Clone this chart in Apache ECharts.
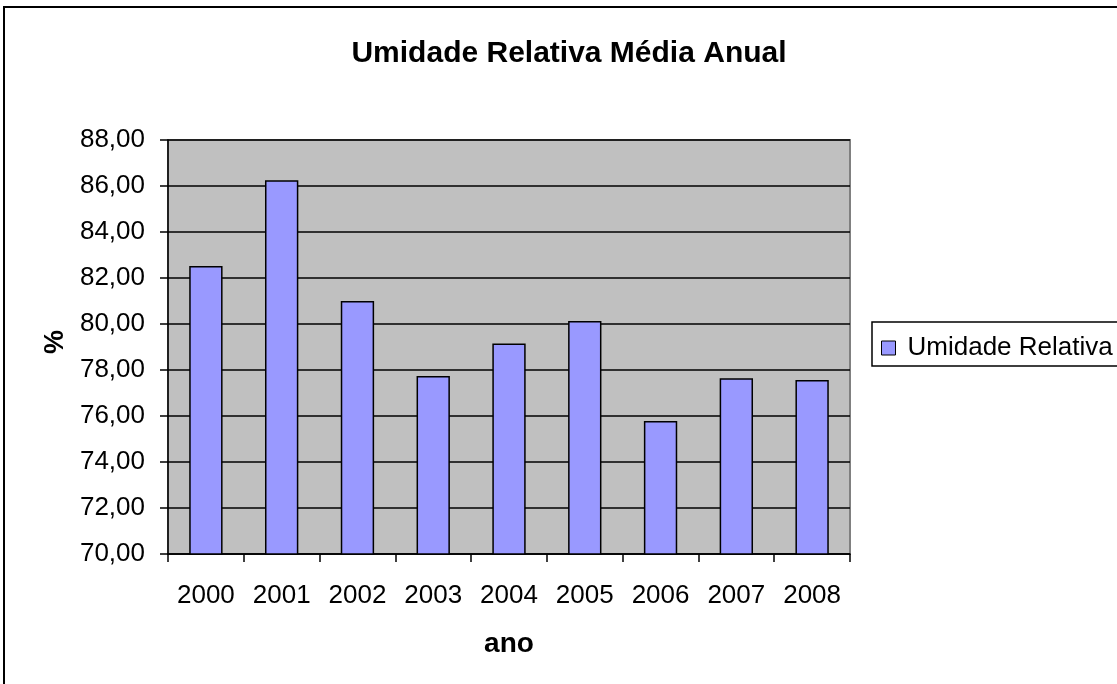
<!DOCTYPE html>
<html>
<head>
<meta charset="utf-8">
<script src="https://cdn.jsdelivr.net/npm/echarts@6/dist/echarts.min.js"></script>
<style>
  html, body { margin: 0; padding: 0; background: #fff; }
  #chart { width: 1117px; height: 684px; }
</style>
</head>
<body>
<div id="chart"></div>
<script>
// Annual mean relative humidity (%), 2000–2008
const years = ['2000', '2001', '2002', '2003', '2004', '2005', '2006', '2007', '2008'];
const humidity = [82.52, 86.25, 81.00, 77.74, 79.15, 80.13, 75.78, 77.64, 77.57];
const seriesName = 'Umidade Relativa';
const yMin = 70, yMax = 88, yStep = 2;

const FONT = '"Liberation Sans", Arial, sans-serif';

const chart = echarts.init(document.getElementById('chart'), null, { renderer: 'canvas' });

chart.setOption({
  backgroundColor: '#ffffff',
  animation: false,
  title: {
    text: 'Umidade Relativa Média Anual',
    left: 569,
    textAlign: 'center',
    top: 39,
    padding: 0,
    textStyle: { fontFamily: FONT, fontSize: 30, fontWeight: 'bold', color: '#000' }
  },
  legend: {
    data: [seriesName],
    left: 872,
    top: 322,
    orient: 'vertical',
    icon: 'rect',
    itemWidth: 14,
    itemHeight: 14,
    itemGap: 0,
    padding: [13, 20, 5, 9],
    borderColor: '#000',
    borderWidth: 1.5,
    backgroundColor: '#fff',
    itemStyle: { borderColor: '#000', borderWidth: 1 },
    textStyle: { fontFamily: FONT, fontSize: 26, color: '#000', padding: [0, 0, 0, 7] }
  },
  grid: {
    left: 168,
    top: 140,
    right: 267,
    bottom: 130,
    show: true,
    backgroundColor: '#c0c0c0',
    borderColor: '#808080',
    borderWidth: 2
  },
  xAxis: {
    type: 'category',
    data: years,
    name: 'ano',
    nameLocation: 'middle',
    nameGap: 76,
    nameTextStyle: { fontFamily: FONT, fontSize: 28, fontWeight: 'bold', color: '#000' },
    axisLine: { lineStyle: { color: '#000', width: 1.5 } },
    axisTick: { show: true, length: 8, alignWithLabel: false, lineStyle: { color: '#000', width: 1.5 } },
    axisLabel: { fontFamily: FONT, fontSize: 26, color: '#000', margin: 29 },
    splitLine: { show: false }
  },
  yAxis: {
    type: 'value',
    min: yMin,
    max: yMax,
    interval: yStep,
    name: '%',
    nameLocation: 'middle',
    nameRotate: 90,
    nameGap: 99,
    nameTextStyle: { fontFamily: FONT, fontSize: 27, fontWeight: 'bold', color: '#000', padding: [0, 0, 0, 10] },
    axisLine: { show: true, lineStyle: { color: '#000', width: 1.5 } },
    axisTick: { show: true, inside: false, length: 8, lineStyle: { color: '#000', width: 1.5 } },
    axisLabel: {
      fontFamily: FONT, fontSize: 26, color: '#000', margin: 23,
      formatter: v => v.toFixed(2).replace('.', ',')
    },
    splitLine: { show: true, lineStyle: { color: '#000', width: 1.5 } }
  },
  series: [{
    name: seriesName,
    type: 'bar',
    data: humidity,
    barCategoryGap: '56%',
    itemStyle: { color: '#9999ff', borderColor: '#000', borderWidth: 1.5 }
  }],
  graphic: [{
    type: 'rect',
    silent: true,
    z: 100,
    shape: { x: 4, y: 7, width: 1300, height: 900 },
    style: { fill: 'none', stroke: '#000', lineWidth: 2 }
  }]
});
</script>
</body>
</html>
